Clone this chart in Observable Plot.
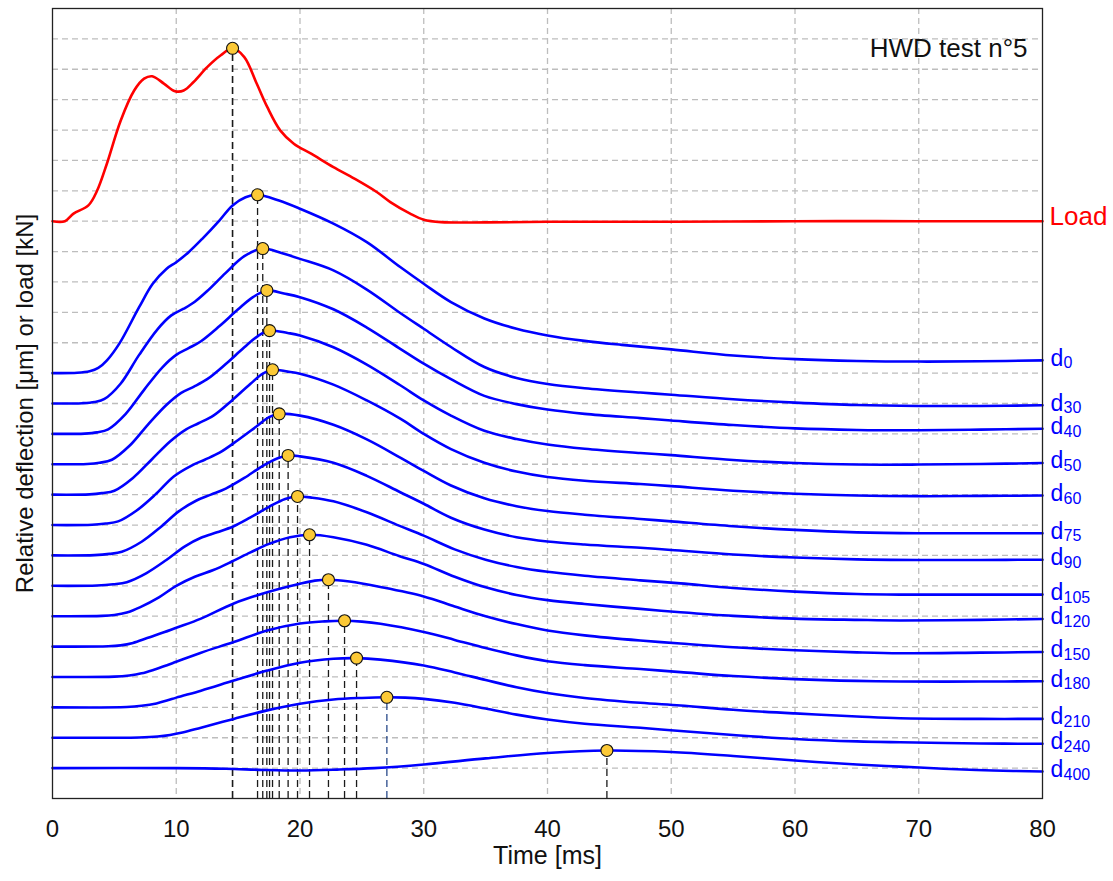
<!DOCTYPE html>
<html>
<head>
<meta charset="utf-8">
<script src="https://cdn.jsdelivr.net/npm/d3@7"></script>
<script src="https://cdn.jsdelivr.net/npm/@observablehq/plot@0.6"></script>
<style>
  html, body { margin: 0; padding: 0; background: white; }
</style>
</head>
<body>
<div id="chart"></div>
<script>
// ---- Data (time [ms], relative value above the curve's own baseline) ----
const loadT = [0, 1, 1.7, 2.9, 3.6, 4.4, 5.5, 6.6, 7.4, 8.05, 9, 9.9, 10.6, 11.4, 12.5, 13.6, 14.55, 15.5, 16.5, 17.35, 18.4, 19.5, 20.9, 22.7, 24.4, 26.2, 27.3, 28.9, 30, 31.4, 35, 40, 50, 60, 70, 80];
const loadV = [0, 0, 0.25, 0.52, 1.0, 1.9, 3.3, 4.3, 4.69, 4.77, 4.53, 4.28, 4.3, 4.58, 5.07, 5.46, 5.69, 5.4, 4.53, 3.76, 2.99, 2.55, 2.22, 1.78, 1.4, 0.96, 0.63, 0.25, 0.05, -0.03, -0.04, -0.02, -0.02, 0, 0, 0];
const loadOffset = 19;

const d0 = [[0,0],[2,0.01],[3,0.06],[3.7,0.17],[4.4,0.42],[5.4,0.97],[7,2.17],[8.1,2.94],[9.2,3.43],[10,3.65],[11,3.98],[12.1,4.42],[13.5,5.03],[14.55,5.52],[15.6,5.79],[16.57,5.87],[18.3,5.68],[20,5.41],[22.7,4.92],[25.4,4.31],[28.1,3.49],[30,2.94],[32.2,2.34],[34.9,1.8],[37.5,1.46],[40,1.24],[43,1.06],[46,0.93],[50,0.78],[55,0.58],[60,0.46],[65,0.4],[70,0.38],[75,0.39],[80,0.42]];
const d30 = [[0,0],[2.4,0.01],[3.4,0.05],[4.2,0.15],[5.5,0.65],[7,1.6],[8.5,2.45],[9.6,2.9],[10.6,3.12],[11.5,3.35],[12.5,3.7],[14,4.3],[15.5,4.85],[16.99,5.1],[18.5,4.95],[20,4.76],[22.7,4.38],[25.4,3.75],[28.1,2.98],[30,2.46],[32.2,1.86],[34.9,1.2],[37.5,0.84],[40,0.64],[43,0.5],[47.5,0.36],[50,0.29],[55,0.14],[60,0.03],[65,-0.05],[70,-0.08],[75,-0.08],[80,-0.06]];
const d40 = [[0,0],[2.6,0.01],[3.6,0.05],[4.5,0.15],[5.9,0.65],[7.4,1.45],[8.9,2.2],[10,2.6],[11,2.82],[12,3.05],[13.5,3.55],[15,4.1],[16.2,4.5],[17.32,4.72],[18.7,4.62],[20,4.5],[22.7,4.1],[25.4,3.5],[28.1,2.8],[30,2.31],[32.2,1.8],[34.9,1.25],[37.5,0.98],[40,0.8],[43,0.66],[47.5,0.52],[50,0.44],[55,0.29],[60,0.18],[65,0.13],[70,0.12],[75,0.14],[80,0.17]];
const d50 = [[0,0],[2.8,0.01],[3.8,0.05],[4.8,0.15],[6.2,0.6],[7.7,1.3],[9.2,1.95],[10.4,2.35],[11.4,2.55],[12.5,2.8],[14,3.3],[15.5,3.85],[16.6,4.22],[17.54,4.4],[19,4.32],[20,4.24],[22.7,3.85],[25.4,3.28],[28.1,2.6],[30,2.1],[32.2,1.6],[34.9,1.1],[37.5,0.83],[40,0.65],[43,0.51],[47.5,0.37],[50,0.3],[55,0.14],[60,0.04],[65,-0.01],[70,-0.01],[75,0.01],[80,0.04]];
const d60 = [[0,0],[3,0.01],[4,0.05],[5,0.13],[6.5,0.55],[8,1.15],[9.5,1.75],[10.8,2.15],[11.8,2.35],[13,2.6],[14.5,3.1],[16,3.65],[17,3.98],[17.78,4.11],[19,4.05],[20,3.98],[22.7,3.62],[25.4,3.1],[28.1,2.5],[30,2.0],[32.2,1.5],[34.9,1.05],[37.5,0.76],[40,0.58],[43,0.46],[47.5,0.35],[50,0.28],[55,0.13],[60,0.03],[65,-0.03],[70,-0.05],[75,-0.04],[80,-0.03]];
const d75 = [[0,0],[3.2,0.01],[4.3,0.05],[5.3,0.12],[6.8,0.48],[8.3,1.0],[9.8,1.6],[11.2,1.95],[12.3,2.15],[13.5,2.38],[15,2.8],[16.5,3.25],[17.5,3.55],[18.32,3.66],[20,3.6],[22.7,3.3],[25.4,2.82],[28.1,2.22],[30,1.78],[32.2,1.3],[34.9,0.88],[37.5,0.62],[40,0.46],[43,0.34],[47.5,0.2],[50,0.12],[55,-0.04],[60,-0.16],[65,-0.24],[70,-0.27],[75,-0.27],[80,-0.27]];
const d90 = [[0,0],[3.4,0.01],[4.6,0.05],[5.6,0.12],[7.2,0.45],[8.7,0.92],[10.2,1.45],[11.6,1.8],[12.8,2.0],[14,2.2],[15.5,2.55],[17,2.95],[18.2,3.2],[19.04,3.29],[20,3.26],[22.7,3.05],[25.4,2.62],[28.1,2.08],[30,1.7],[32.2,1.24],[34.9,0.85],[37.5,0.6],[40,0.46],[43,0.36],[47.5,0.25],[50,0.18],[55,0.03],[60,-0.07],[65,-0.13],[70,-0.15],[75,-0.15],[80,-0.14]];
const d105 = [[0,0],[3.6,0.01],[4.9,0.05],[6,0.12],[7.6,0.42],[9.2,0.85],[10.7,1.3],[12,1.58],[13.3,1.76],[14.6,1.95],[16,2.25],[17.5,2.6],[18.8,2.86],[19.8,2.94],[21,2.9],[22.7,2.78],[25.4,2.42],[28,1.98],[30,1.65],[32.5,1.2],[35,0.86],[37.5,0.62],[40,0.46],[43,0.33],[47.5,0.18],[50.75,0.08],[55,-0.07],[60,-0.19],[65,-0.27],[68.5,-0.29],[75,-0.29],[80,-0.29]];
const d120 = [[0,0],[4,0.01],[5,0.04],[6,0.12],[7.1,0.3],[8.6,0.62],[10,1.0],[11.5,1.3],[13,1.52],[14.5,1.8],[16,2.1],[17.5,2.38],[19.2,2.6],[20.77,2.68],[22.7,2.6],[25.4,2.35],[28,1.98],[30,1.72],[32.5,1.3],[35,0.95],[37.5,0.7],[40,0.53],[43,0.4],[47.5,0.24],[50.75,0.13],[55,0.01],[60,-0.08],[65,-0.12],[68.5,-0.14],[75,-0.12],[80,-0.09]];
const d150 = [[0,0],[4.5,0.01],[5.5,0.04],[6.5,0.12],[7.65,0.28],[9,0.47],[10,0.62],[12,0.92],[14.65,1.42],[17.35,1.79],[20,2.07],[21.2,2.17],[22.3,2.2],[24,2.14],[26.5,1.96],[30,1.65],[32.5,1.32],[35,1.0],[37.5,0.74],[40,0.53],[43,0.37],[47.5,0.2],[50.75,0.1],[55,-0.02],[60,-0.12],[65,-0.19],[68.5,-0.22],[75,-0.2],[80,-0.18]];
const d180 = [[0,0],[5,0.01],[6.2,0.05],[7.2,0.12],[8.2,0.24],[9.2,0.38],[10,0.5],[12,0.8],[14.65,1.15],[17.35,1.53],[20,1.76],[22,1.83],[23.6,1.85],[25,1.82],[26.5,1.75],[30,1.48],[32.5,1.22],[35,0.95],[37.5,0.71],[40,0.52],[43,0.39],[47.5,0.26],[50.75,0.16],[55,0.03],[60,-0.07],[65,-0.13],[68.5,-0.15],[75,-0.15],[80,-0.14]];
const d210 = [[0,0],[6,0.01],[7.2,0.05],[8.4,0.13],[9.3,0.23],[10,0.32],[12,0.55],[14.65,0.88],[17.35,1.21],[20,1.47],[22.7,1.6],[24.57,1.62],[26.5,1.57],[30,1.38],[32.5,1.15],[35,0.9],[37.5,0.66],[40,0.47],[43,0.31],[47.5,0.15],[50.75,0.06],[55,-0.08],[60,-0.2],[65,-0.3],[68.5,-0.36],[75,-0.38],[80,-0.38]];
const d240 = [[0,0],[7,0.01],[8.5,0.04],[9.5,0.09],[10.5,0.17],[12,0.33],[14.65,0.62],[17.35,0.9],[20,1.12],[22.7,1.26],[25,1.31],[27.02,1.33],[28.5,1.32],[30,1.28],[32.5,1.15],[35,0.96],[37.5,0.76],[40,0.6],[43,0.46],[47.5,0.33],[50.75,0.22],[55,0.09],[60,-0.04],[65,-0.12],[68.5,-0.15],[75,-0.19],[80,-0.2]];
const d400 = [[0,0],[10,0],[14,-0.02],[17,-0.06],[20,-0.08],[23,-0.05],[26,0.0],[30,0.12],[35,0.32],[40,0.5],[44.8,0.58],[50,0.53],[55,0.4],[60,0.25],[65,0.12],[68.5,0.05],[72,-0.02],[76,-0.08],[80,-0.11]];

const sensorNames = ["d0","d30","d40","d50","d60","d75","d90","d105","d120","d150","d180","d210","d240","d400"];
const sensorSubs = ["0","30","40","50","60","75","90","105","120","150","180","210","240","400"];
const sensorOffsets = [14,13,12,11,10,9,8,7,6,5,4,3,2,1];
const sensorSeries = [d0,d30,d40,d50,d60,d75,d90,d105,d120,d150,d180,d210,d240,d400];

const xTicks = [0,10,20,30,40,50,60,70,80];
const xGrid = [10,20,30,40,50,60,70];
const yGrid = d3.range(1, 26);

// ---- Build tables ----
const loadRows = loadT.map((t, i) => ({key: "Load", t, v: loadV[i] + loadOffset}));
const sensorRows = sensorSeries.flatMap((s, i) => s.map(([t, v]) => ({key: sensorNames[i], t, v: v + sensorOffsets[i]})));

const loadPeakIdx = d3.maxIndex(loadV);
const loadPeak = {key: "Load", t: loadT[loadPeakIdx], v: loadV[loadPeakIdx] + loadOffset};
const sensorPeaks = sensorSeries.map((s, i) => {
  const p = d3.greatest(s, d => d[1]);
  return {key: sensorNames[i], t: p[0], v: p[1] + sensorOffsets[i]};
});
const peaks = [loadPeak, ...sensorPeaks];

const sensorEnds = sensorSeries.map((s, i) => ({key: sensorNames[i], sub: sensorSubs[i], t: s[s.length - 1][0], v: s[s.length - 1][1] + sensorOffsets[i]}));
const loadEnd = [{key: "Load", t: loadT[loadT.length - 1], v: loadV[loadV.length - 1] + loadOffset}];

const BLUE = "#0000ff", RED = "#ff0000";

const chart = Plot.plot({
  width: 1113,
  height: 881,
  marginLeft: 52,
  marginRight: 71,
  marginTop: 8,
  marginBottom: 83,
  x: {domain: [0, 80]},
  y: {domain: [0, 26], axis: null},
  style: {fontFamily: "'Liberation Sans', Arial, sans-serif", background: "white", overflow: "visible"},
  marks: [
    Plot.gridX(xGrid, {stroke: "#bdbdbd", strokeOpacity: 1, strokeWidth: 1.3, strokeDasharray: "6,4"}),
    Plot.gridY(yGrid, {stroke: "#bdbdbd", strokeOpacity: 1, strokeWidth: 1.3, strokeDasharray: "6,4"}),
    Plot.ruleX(peaks, {x: "t", y1: 0, y2: "v",
      stroke: d => d.key === "d240" ? "#2a4a8a" : "#1a1a1a",
      strokeWidth: d => d.key === "Load" ? 1.6 : 1.3,
      strokeDasharray: "7,4"}),
    Plot.line(sensorRows, {x: "t", y: "v", z: "key", stroke: BLUE, strokeWidth: 2.6, curve: "catmull-rom"}),
    Plot.line(loadRows, {x: "t", y: "v", stroke: RED, strokeWidth: 2.6, curve: "catmull-rom"}),
    Plot.dot(peaks, {x: "t", y: "v", r: 6, fill: "#fcc936", stroke: "#111", strokeWidth: 1.1}),
    Plot.frame({stroke: "#222", strokeWidth: 1.3}),
    Plot.axisX(xTicks, {tickSize: 0, tickPadding: 21, fontSize: 24, fill: "#111", label: null}),
    // right-side labels
    Plot.text(loadEnd, {x: "t", y: "v", text: () => "Load", dx: 7, dy: -5, textAnchor: "start", fill: RED, fontSize: 26}),
    Plot.text(sensorEnds, {x: "t", y: "v", text: () => "d", dx: 8, dy: -2, textAnchor: "start", fill: BLUE, fontSize: 23}),
    Plot.text(sensorEnds, {x: "t", y: "v", text: "sub", dx: 21, dy: 3, textAnchor: "start", fill: BLUE, fontSize: 16}),
    // titles
    Plot.text(["Time [ms]"], {text: d => d, frameAnchor: "bottom", textAnchor: "middle", dy: 65, fontSize: 25, fill: "#111"}),
    Plot.text(["Relative deflection [μm] or load [kN]"], {text: d => d, frameAnchor: "left", textAnchor: "middle", rotate: -90, dx: -27, fontSize: 24, fill: "#111"}),
    Plot.text(["HWD test n°5"], {text: d => d, frameAnchor: "top-right", textAnchor: "end", dx: -15, dy: 30, fontSize: 26, fill: "#111"})
  ]
});
document.getElementById("chart").appendChild(chart);
</script>
</body>
</html>
